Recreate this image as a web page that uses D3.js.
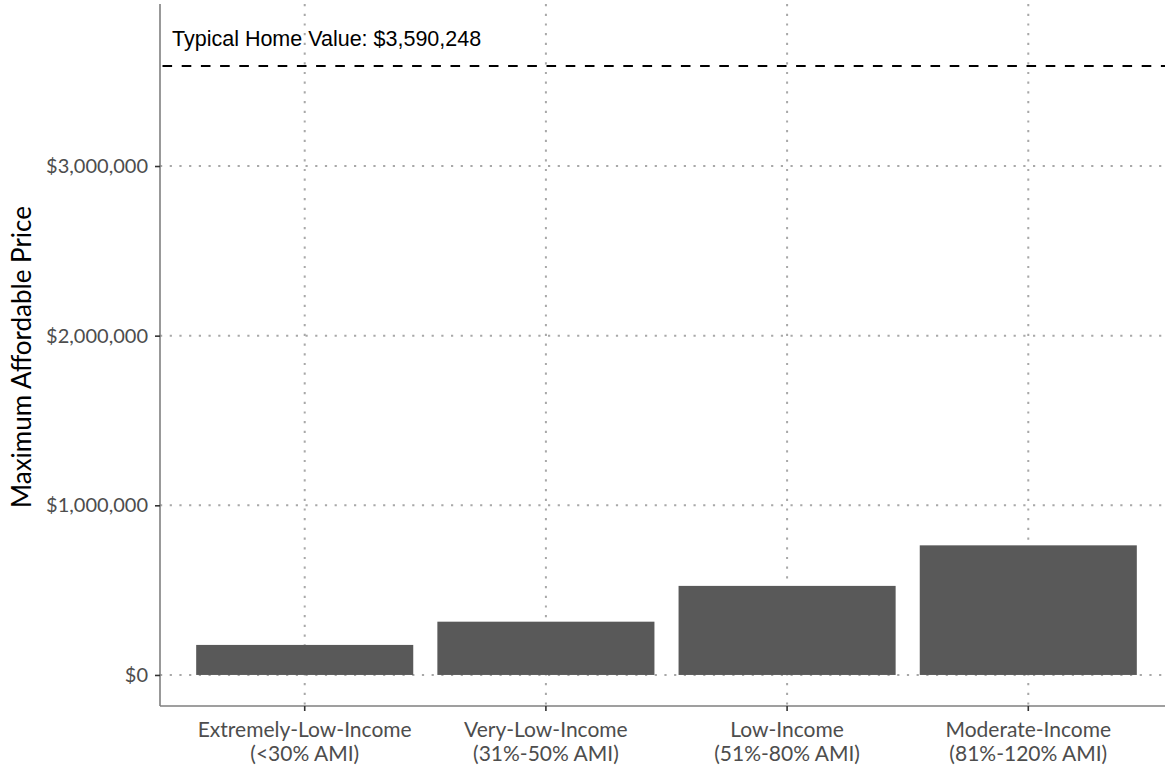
<!DOCTYPE html>
<html>
<head>
<meta charset="utf-8">
<script src="https://cdn.jsdelivr.net/npm/d3@7"></script>
<style>
  body { margin: 0; background: #fff; }
  svg { display: block; }
</style>
</head>
<body>
<div id="chart"></div>
<script>
// categories and values
let categories = [
  ["Extremely-Low-Income", "(<30% AMI)"],
  ["Very-Low-Income", "(31%-50% AMI)"],
  ["Low-Income", "(51%-80% AMI)"],
  ["Moderate-Income", "(81%-120% AMI)"]
];
let prices = [177000, 314000, 525000, 764000];
let typicalValue = 3590248;
let yTicks = [0, 1000000, 2000000, 3000000];

let W = 1165, H = 767;
let plotLeft = 160, plotRight = 1173, plotTop = 4, plotBottom = 706;

let svg = d3.select("#chart").append("svg")
  .attr("width", W)
  .attr("height", H);

let x = d3.scaleBand()
  .domain(d3.range(categories.length))
  .range([plotLeft, plotRight])
  .paddingInner(0.1)
  .paddingOuter(0.15);

let y = d3.scaleLinear()
  .domain([-183000, 3955000])
  .range([plotBottom, plotTop]);

let fmt = d => "$" + d3.format(",")(d);

// grid lines (dotted)
let grid = svg.append("g");
grid.selectAll("line.h")
  .data(yTicks)
  .enter().append("line")
  .attr("x1", plotLeft).attr("x2", W)
  .attr("y1", d => y(d)).attr("y2", d => y(d))
  .attr("stroke", "#a8a8a8")
  .attr("stroke-width", 2)
  .attr("stroke-dasharray", "2.2,7.5");
grid.selectAll("line.v")
  .data(categories)
  .enter().append("line")
  .attr("x1", (d, i) => x(i) + x.bandwidth() / 2)
  .attr("x2", (d, i) => x(i) + x.bandwidth() / 2)
  .attr("y1", plotTop).attr("y2", plotBottom)
  .attr("stroke", "#a8a8a8")
  .attr("stroke-width", 2)
  .attr("stroke-dasharray", "2.2,7.5");

// bars
svg.selectAll("rect.bar")
  .data(prices)
  .enter().append("rect")
  .attr("x", (d, i) => x(i))
  .attr("width", x.bandwidth())
  .attr("y", d => y(d))
  .attr("height", d => y(0) - y(d))
  .attr("fill", "#595959");

// typical home value line + label
svg.append("line")
  .attr("x1", plotLeft).attr("x2", W)
  .attr("y1", y(typicalValue)).attr("y2", y(typicalValue))
  .attr("stroke", "#000")
  .attr("stroke-width", 2)
  .attr("stroke-dasharray", "9.6,9.6")
  .attr("stroke-dashoffset", -2.5);

svg.append("text")
  .attr("x", 172)
  .attr("y", 46)
  .attr("font-family", "'Liberation Sans', Arial, sans-serif")
  .attr("font-size", 21.5)
  .attr("fill", "#000")
  .text("Typical Home Value: " + fmt(typicalValue));

// axes
let yAxis = svg.append("g")
  .attr("transform", "translate(" + plotLeft + ",0)")
  .call(d3.axisLeft(y).tickValues(yTicks).tickFormat(fmt).tickSize(5).tickPadding(7));

let xAxis = svg.append("g")
  .attr("transform", "translate(0," + plotBottom + ")")
  .call(d3.axisBottom(x).tickSize(5).tickFormat(""));

[yAxis, xAxis].forEach(a => {
  a.select(".domain").attr("stroke", "#7f7f7f").attr("stroke-width", 1.6);
  a.selectAll(".tick line").attr("stroke", "#333").attr("stroke-width", 1.6);
});
yAxis.select(".domain").attr("d", "M0," + plotBottom + "V" + plotTop);
xAxis.select(".domain").attr("d", "M" + plotLeft + ",0H" + W);

yAxis.selectAll(".tick text")
  .attr("font-family", "Lato, sans-serif")
  .attr("font-size", 20)
  .attr("fill", "#4d4d4d");

// two-line category labels
xAxis.selectAll(".tick").each(function(d, i) {
  let t = d3.select(this).append("text")
    .attr("text-anchor", "middle")
    .attr("font-family", "Lato, sans-serif")
    .attr("font-size", 21)
    .attr("fill", "#4d4d4d");
  categories[i].forEach((line, j) => {
    t.append("tspan")
      .attr("x", 0)
      .attr("y", 31 + j * 24)
      .text(line);
  });
});

// y axis title
svg.append("text")
  .attr("transform", "translate(31," + 357 + ") rotate(-90)")
  .attr("text-anchor", "middle")
  .attr("font-family", "Lato, sans-serif")
  .attr("font-size", 26)
  .attr("fill", "#000")
  .text("Maximum Affordable Price");
</script>
</body>
</html>
